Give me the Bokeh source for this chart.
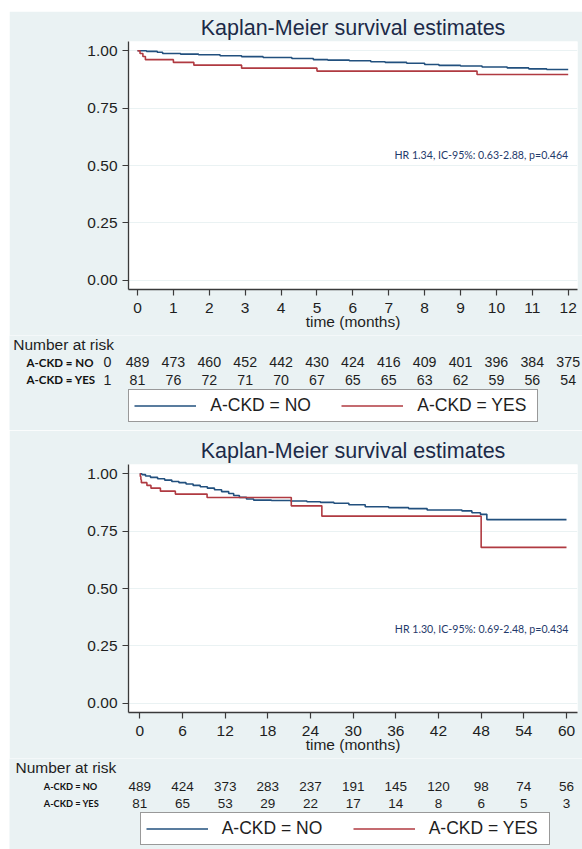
from bokeh.plotting import figure
from bokeh.models import (Range1d, FixedTicker, Label, ColumnDataSource,
                          Legend, LegendItem, PrintfTickFormatter, Spacer)
from bokeh.layouts import column, row
from bokeh.embed import file_html
from bokeh.resources import INLINE
from bokeh.core.properties import value

# ---------------- data ----------------
title_text = "Kaplan-Meier survival estimates"
series_names = ["A-CKD = NO", "A-CKD = YES"]

# 12-month follow-up
top_no_t = [0, 0.25, 0.55, 0.70, 1.2, 1.7, 2.3, 2.9, 3.5, 4.3, 4.9, 5.3, 5.9, 6.5, 6.9,
            7.5, 8.0, 8.4, 9.0, 9.6, 10.3, 10.9, 11.4, 12]
top_no_s = [1.0, 0.997, 0.993, 0.988, 0.985, 0.982, 0.978, 0.974, 0.970, 0.966, 0.961,
            0.959, 0.956, 0.952, 0.949, 0.945, 0.940, 0.936, 0.933, 0.929, 0.925, 0.921,
            0.918, 0.918]
top_yes_t = [0, 0.07, 0.15, 0.22, 1.0, 1.57, 2.9, 5.0, 9.46, 12]
top_yes_s = [1.0, 0.988, 0.975, 0.961, 0.949, 0.937, 0.924, 0.911, 0.896, 0.896]
top_ticks = [0, 1, 2, 3, 4, 5, 6, 7, 8, 9, 10, 11, 12]
top_risk_no = [489, 473, 460, 452, 442, 430, 424, 416, 409, 401, 396, 384, 375]
top_risk_yes = [81, 76, 72, 71, 70, 67, 65, 65, 63, 62, 59, 56, 54]
top_risk_lead = ["0", "1"]
top_hr = "HR 1.34, IC-95%: 0.63-2.88, p=0.464"

# 60-month follow-up
bot_no_t = [0, 0.3, 0.8, 1.5, 2.5, 3.5, 4.5, 5.5, 6.5, 7.5, 8.5, 9.5, 10.5, 11.5, 12.5,
            13.2, 14.0, 15.0, 16.0, 18.5, 21.2, 23.5, 25.4, 27.3, 29.4, 31.7, 35.0, 37.8,
            40.4, 45.3, 46.7, 47.9, 48.8, 60]
bot_no_s = [1.0, 0.996, 0.990, 0.984, 0.978, 0.972, 0.966, 0.961, 0.955, 0.949, 0.943,
            0.937, 0.930, 0.922, 0.914, 0.905, 0.897, 0.890, 0.885, 0.883, 0.881, 0.878,
            0.875, 0.871, 0.865, 0.856, 0.852, 0.848, 0.842, 0.838, 0.830, 0.823, 0.800,
            0.800]
bot_yes_t = [0, 0.07, 0.15, 0.22, 1.0, 1.57, 2.9, 5.0, 9.46, 21.3, 25.6, 48.0, 60]
bot_yes_s = [1.0, 0.988, 0.975, 0.961, 0.949, 0.937, 0.924, 0.911, 0.896, 0.860, 0.815,
             0.679, 0.679]
bot_ticks = [0, 6, 12, 18, 24, 30, 36, 42, 48, 54, 60]
bot_risk_no = [489, 424, 373, 283, 237, 191, 145, 120, 98, 74, 56]
bot_risk_yes = [81, 65, 53, 29, 22, 17, 14, 8, 6, 5, 3]
bot_hr = "HR 1.30, IC-95%: 0.69-2.48, p=0.434"

y_ticks = [0, 0.25, 0.5, 0.75, 1.0]

# ---------------- style ----------------
BG = "#eaf2f3"
BLUE = "#22507e"
RED = "#b03a41"
FONT = "Liberation Sans"
TXT = "#1e1e1e"
W = 573
BL, BR = 119, 5


def km_plot(t_no, s_no, t_yes, s_yes, ticks, hr, hr_x, hr_y, g):
    p = figure(width=W, height=g["h"], output_backend="svg", toolbar_location=None,
               x_range=Range1d(g["x0"], g["x1"]), y_range=Range1d(-0.04, 1.04),
               min_border_left=BL, min_border_right=BR,
               min_border_top=g["bt"], min_border_bottom=g["bb"])
    p.frame_align = False
    p.title.text = title_text
    p.title.align = "center"
    p.title.text_font = FONT
    p.title.text_font_size = "21.5px"
    p.title.text_font_style = "normal"
    p.title.text_color = "#1c2a48"
    p.title.standoff = 4
    p.background_fill_color = "white"
    p.border_fill_color = BG
    p.outline_line_color = None

    p.xaxis.ticker = FixedTicker(ticks=ticks)
    p.yaxis.ticker = FixedTicker(ticks=y_ticks)
    p.yaxis.formatter = PrintfTickFormatter(format="%.2f")
    p.xaxis.axis_label = "time (months)"
    p.xaxis.axis_label_text_font = FONT
    p.xaxis.axis_label_text_font_size = "15.5px"
    p.xaxis.axis_label_text_font_style = "normal"
    p.xaxis.axis_label_text_color = TXT
    p.xaxis.axis_label_standoff = -3
    p.xaxis.major_label_standoff = 7
    p.yaxis.major_label_standoff = 5
    for ax in (p.xaxis, p.yaxis):
        ax.major_label_text_font = FONT
        ax.major_label_text_font_size = "15.5px"
        ax.major_label_text_color = TXT
        ax.major_tick_in = 0
        ax.major_tick_out = 6
        ax.minor_tick_line_color = None
        ax.axis_line_color = "#3a3a3a"
        ax.axis_line_width = 1.3
        ax.major_tick_line_color = "#3a3a3a"
        ax.major_tick_line_width = 1.2
    p.xgrid.grid_line_color = None
    p.ygrid.grid_line_color = BG
    p.ygrid.grid_line_width = 1.2

    p.step(t_no, s_no, mode="after", line_color=BLUE, line_width=1.6)
    p.step(t_yes, s_yes, mode="after", line_color=RED, line_width=1.6)

    p.add_layout(Label(x=hr_x, y=hr_y, x_offset=g["hr_off"], text=hr, text_align="right",
                       text_baseline="middle", text_font="Lato", text_font_size="10.6px",
                       text_color="#1f3a6b"))
    return p


def risk_table(g, curves, ticks, risk_no, risk_yes, lead, t):
    # frame spans the whole figure; x range aligned with the plot above it
    ppu = (W - BL - BR) / (g["x1"] - g["x0"])
    xr = Range1d(g["x0"] - BL / ppu, g["x1"] + BR / ppu)
    h = t["h"]
    q = figure(width=W, height=h, output_backend="svg", toolbar_location=None,
               x_range=xr, y_range=Range1d(h, 0), min_border=0,
               x_axis_type=None, y_axis_type=None)
    q.frame_align = False
    q.background_fill_color = BG
    q.border_fill_color = BG
    q.outline_line_color = None

    q.add_layout(Label(x=t["nar_x"], y=t["nar_y"], x_units="screen",
                       text="Number at risk", text_align="left", text_baseline="middle",
                       text_font=FONT, text_font_size="15.5px", text_color=TXT))
    rows = ((series_names[0], t["no_y"], risk_no, 0), (series_names[1], t["yes_y"], risk_yes, 1))
    for name, row_y, risk, k in rows:
        q.add_layout(Label(x=t["rl_x"], y=row_y, x_units="screen",
                           text=name, text_align="left", text_baseline="middle",
                           text_font="Lato", text_font_style="bold",
                           text_font_size=t["rl_size"], text_color="#111111"))
        src = ColumnDataSource(dict(t=ticks, n=[str(v) for v in risk]))
        q.text(x="t", y=row_y, text="n", source=src, text_align="center",
               text_baseline="middle", text_font=value(FONT),
               text_font_size=value(t["num_size"]), text_color=TXT)
        if lead is not None:
            q.add_layout(Label(x=ticks[0], y=row_y, x_offset=-30, text=lead[k],
                               text_align="center", text_baseline="middle", text_font=FONT,
                               text_font_size=t["num_size"], text_color=TXT))

    # the survival curves again, on a range kept out of view, so the legend can show their style
    q.extra_y_ranges = {"offview": Range1d(5, 6)}
    (tn, sn), (ty, sy) = curves
    g_no = q.step(tn, sn, mode="after", line_color=BLUE, line_width=1.6, y_range_name="offview")
    g_yes = q.step(ty, sy, mode="after", line_color=RED, line_width=1.6, y_range_name="offview")
    legend = Legend(items=[LegendItem(label=series_names[0], renderers=[g_no]),
                           LegendItem(label=series_names[1], renderers=[g_yes])],
                    location=(t["lx"], t["ly"]), orientation="horizontal",
                    glyph_width=62, glyph_height=19, label_height=19, label_width=115,
                    label_standoff=14, spacing=16, padding=5, margin=0,
                    label_text_font=FONT, label_text_font_size="17.5px",
                    label_text_color=TXT, border_line_color="#333333", border_line_width=1,
                    background_fill_color="white", background_fill_alpha=1.0)
    q.add_layout(legend)
    return q


geom_top = dict(h=324, bt=30, bb=46, x0=-0.251, x1=12.259, hr_off=0)
tab_top = dict(h=95, nar_x=3.7, nar_y=9, no_y=26.7, yes_y=44, rl_x=17, rl_size="11.5px",
               num_size="14.2px", lx=119.3, ly=8)
geom_bot = dict(h=328, bt=34, bb=46, x0=-1.589, x1=61.547, hr_off=2)
tab_bot = dict(h=91, nar_x=6, nar_y=9, no_y=27.5, yes_y=44.5, rl_x=34.3, rl_size="9.2px",
               num_size="13.5px", lx=130.7, ly=4)

p1 = km_plot(top_no_t, top_no_s, top_yes_t, top_yes_s, top_ticks, top_hr, 12, 0.545, geom_top)
t1 = risk_table(geom_top, ((top_no_t, top_no_s), (top_yes_t, top_yes_s)), top_ticks,
                top_risk_no, top_risk_yes, top_risk_lead, tab_top)
p2 = km_plot(bot_no_t, bot_no_s, bot_yes_t, bot_yes_s, bot_ticks, bot_hr, 60, 0.325, geom_bot)
t2 = risk_table(geom_bot, ((bot_no_t, bot_no_s), (bot_yes_t, bot_yes_s)), bot_ticks,
                bot_risk_no, bot_risk_yes, None, tab_bot)

layout = row(Spacer(width=9), column(Spacer(height=11), p1, t1, p2, t2, spacing=0), spacing=0)
open("out.html", "w").write(file_html(layout, INLINE))
